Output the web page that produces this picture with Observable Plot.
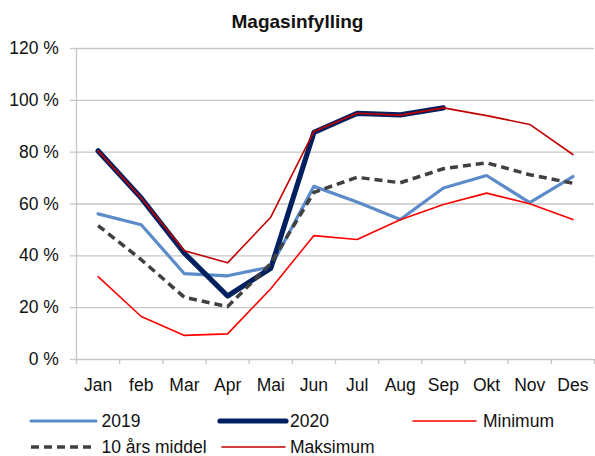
<!DOCTYPE html>
<html>
<head>
<meta charset="utf-8">
<script src="https://cdn.jsdelivr.net/npm/d3@7"></script>
<script src="https://cdn.jsdelivr.net/npm/@observablehq/plot@0.6"></script>
<style>
  html, body { margin: 0; padding: 0; background: #fff; }
  #wrap { position: relative; width: 595px; height: 456px; overflow: hidden; font-family: "Liberation Sans", Arial, sans-serif; color: #111; }
  #title { position: absolute; left: 0; top: 0; width: 595px; height: 36px; box-sizing: border-box; padding-top: 12px; font-size: 19px; line-height: 19px; font-weight: bold; text-align: center; }
  #chart { position: absolute; left: 0; top: 36px; }
  #legend { position: absolute; left: 0; top: 396px; }
</style>
</head>
<body>
<div id="wrap">
  <div id="title">Magasinfylling</div>
  <div id="chart"></div>
  <svg id="legend" width="595" height="60"></svg>
</div>
<script>
const months = ["Jan","feb","Mar","Apr","Mai","Jun","Jul","Aug","Sep","Okt","Nov","Des"];
const yTicks = [0, 20, 40, 60, 80, 100, 120];
const v2019 = [56.2, 52.0, 33.1, 32.3, 35.7, 66.8, 60.8, 54.0, 66.2, 71.0, 60.5, 70.6];
const v2020 = [80.5, 62.3, 41.0, 24.5, 35.2, 87.6, 95.0, 94.4, 97.1];
const vMin = [32.0, 16.6, 9.3, 9.9, 27.3, 47.8, 46.3, 53.9, 59.8, 64.2, 60.1, 54.0];
const vMiddel = [51.7, 38.5, 24.0, 20.4, 37.0, 64.5, 70.3, 68.2, 73.6, 75.9, 71.3, 68.0];
const vMaks = [80.5, 62.3, 42.0, 37.3, 54.9, 88.0, 95.0, 94.3, 97.1, 94.1, 90.7, 79.1];

const seriesNames = ["2019", "2020", "Minimum", "10 års middel", "Maksimum"];

const idx = months.map((m, i) => i);
const edges = d3.range(months.length + 1).map(i => i - 0.5);
const gridColor = "#c6c6c6";
const fontSize = 17.5;

const chart = Plot.plot({
  width: 595,
  height: 360,
  marginLeft: 76,
  marginRight: 1,
  marginTop: 12,
  marginBottom: 37,
  style: { fontFamily: '"Liberation Sans", Arial, sans-serif', fontSize: fontSize + "px", color: "#111", background: "#fff", overflow: "visible" },
  x: { type: "linear", domain: [-0.5, months.length - 0.5] },
  y: { domain: [0, 120] },
  marks: [
    Plot.ruleY(yTicks, { stroke: gridColor, strokeWidth: 1.3 }),
    Plot.ruleX([edges[0]], { y1: 0, y2: 120, stroke: gridColor, strokeWidth: 1.3 }),
    Plot.axisY({ ticks: yTicks, tickSize: 6, tickPadding: 11.7, tickFormat: d => d + " %", stroke: gridColor, strokeWidth: 1.3, strokeOpacity: 1, label: null, fill: "#111" }),
    Plot.axisX({ ticks: edges, tickSize: 5, tickFormat: () => "", stroke: gridColor, strokeWidth: 1.3, strokeOpacity: 1, label: null }),
    Plot.axisX({ ticks: idx, tickSize: 0, tickPadding: 19, tickFormat: i => months[i], label: null, fill: "#111" }),
    Plot.line(v2019, { x: (d, i) => i, y: d => d, stroke: "#5B8BC8", strokeWidth: 3.2 }),
    Plot.line(v2020, { x: (d, i) => i, y: d => d, stroke: "#002060", strokeWidth: 5.2 }),
    Plot.line(vMin, { x: (d, i) => i, y: d => d, stroke: "#FF0000", strokeWidth: 1.6 }),
    Plot.line(vMiddel, { x: (d, i) => i, y: d => d, stroke: "#404040", strokeWidth: 3.5, strokeDasharray: "8,5", strokeLinecap: "butt" }),
    Plot.line(vMaks, { x: (d, i) => i, y: d => d, stroke: "#C00000", strokeWidth: 1.6 })
  ]
});
document.getElementById("chart").appendChild(chart);

// legend
const legendItems = [
  { name: seriesNames[0], x0: 31, x1: 96, tx: 101.5, row: 0, stroke: "#5B8BC8", w: 3.2, dash: null },
  { name: seriesNames[1], x0: 220, x1: 286, tx: 290, row: 0, stroke: "#002060", w: 5.2, dash: null },
  { name: seriesNames[2], x0: 413, x1: 476, tx: 483, row: 0, stroke: "#FF0000", w: 1.6, dash: null },
  { name: seriesNames[3], x0: 31, x1: 96, tx: 101.5, row: 1, stroke: "#404040", w: 3.5, dash: "8,5" },
  { name: seriesNames[4], x0: 222, x1: 285, tx: 290, row: 1, stroke: "#C00000", w: 1.6, dash: null }
];
const rowY = [25, 51];
const leg = d3.select("#legend");
for (const it of legendItems) {
  const y = rowY[it.row];
  const l = leg.append("line").attr("x1", it.x0).attr("x2", it.x1).attr("y1", y).attr("y2", y)
    .attr("stroke", it.stroke).attr("stroke-width", it.w).attr("stroke-linecap", it.dash ? "butt" : "round");
  if (it.dash) l.attr("stroke-dasharray", it.dash);
  leg.append("text").attr("x", it.tx).attr("y", y).attr("dy", "0.35em")
    .attr("font-family", '"Liberation Sans", Arial, sans-serif').attr("font-size", fontSize)
    .attr("fill", "#111").text(it.name);
}
</script>
</body>
</html>
